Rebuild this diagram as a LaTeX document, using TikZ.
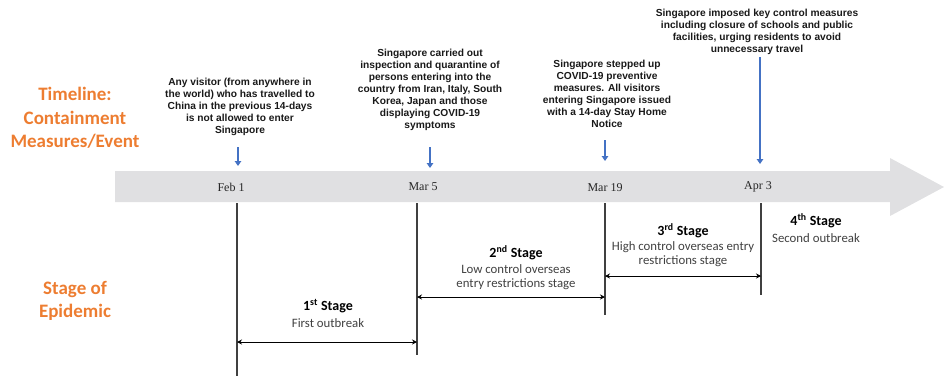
\documentclass[tikz,border=0pt]{standalone}
\usepackage{fontspec}
\setmainfont{Liberation Serif}
\newfontfamily\calibri{Carlito}
\newfontfamily\helv{Liberation Sans}
\usetikzlibrary{arrows.meta}
\definecolor{orng}{RGB}{237,125,49}
\definecolor{blu}{RGB}{68,114,196}
\definecolor{band}{RGB}{224,224,226}
\tikzset{
  side/.style={text=orng,font=\calibri\bfseries\fontsize{19}{23.5}\selectfont,align=center},
  event/.style={font=\helv\bfseries\fontsize{10.2}{12}\selectfont,align=center,text=black!90},
  date/.style={font=\fontsize{12}{14}\selectfont,text=black!85},
  stagehead/.style={font=\calibri\bfseries\fontsize{14}{16}\selectfont},
  stagetext/.style={font=\calibri\fontsize{12.8}{14.5}\selectfont,align=center,text=black!75},
  push/.style={blu,line width=1.6pt,-{Triangle[length=5pt,width=6.5pt]}},
  span/.style={line width=0.9pt,{Stealth[length=5pt,width=5pt]}-{Stealth[length=5pt,width=5pt]}},
}
\begin{document}
\begin{tikzpicture}[x=1pt,y=-1pt]
\useasboundingbox (0,0) rectangle (944,376);
% grey time axis
\fill[band] (115,171) -- (890,171) -- (890,158) -- (944,187) -- (890,216) -- (890,202) -- (115,202) -- cycle;
% row headings
\node[side] (timeline) at (75,118) {Timeline:\\Containment\\Measures/Event};
\node[side] (epidemic) at (75,301) {Stage of\\Epidemic};
% dates on the axis
\node[date] (feb) at (231,187) {Feb 1};
\node[date] (mar5) at (423,187) {Mar 5};
\node[date] (mar19) at (605,188) {Mar 19};
\node[date] (apr) at (758,187) {Apr 3};
% events
\node[event] (ev1) at (240,107) {Any visitor (from anywhere in\\the world) who has travelled to\\China in the previous 14-days\\is not allowed to enter\\Singapore};
\node[event] (ev2) at (430,90) {Singapore carried out\\inspection and quarantine of\\persons entering into the\\country from Iran, Italy, South\\Korea, Japan and those\\displaying COVID-19\\symptoms};
\node[event] (ev3) at (607,94) {Singapore stepped up\\COVID-19 preventive\\measures. All visitors\\entering Singapore issued\\with a 14-day Stay Home\\Notice};
\node[event] (ev4) at (757,32) {Singapore imposed key control measures\\including closure of schools and public\\facilities, urging residents to avoid\\unnecessary travel};
\foreach \n/\x/\a/\b in {1/238/147/166, 2/430/147/168, 3/605/140/161, 4/760/57/164} {
  \coordinate (from\n) at (\x,\a);
  \coordinate (to\n) at (\x,\b);
  \draw[push] (from\n) -- (to\n);
}
% stage boundaries
\foreach \n/\x/\y in {1/237/376, 2/417/355, 3/605/315, 4/761/295} {
  \coordinate (top\n) at (\x,203);
  \coordinate (bot\n) at (\x,\y);
  \draw[line width=1.1pt,black!75] (top\n) -- (bot\n);
}
\draw[span] (top1 |- 0,342) -- (top2 |- 0,342);
\draw[span] (top2 |- 0,297) -- (top3 |- 0,297);
\draw[span] (top3 |- 0,276) -- (top4 |- 0,276);
% stages
\node[stagehead] (s1) at (328,306) {1\textsuperscript{st} Stage};
\node[stagetext] (d1) at (328,323) {First outbreak};
\node[stagehead] (s2) at (516,253) {2\textsuperscript{nd} Stage};
\node[stagetext] (d2) at (516,277) {Low control overseas\\entry restrictions stage};
\node[stagehead] (s3) at (683,231) {3\textsuperscript{rd} Stage};
\node[stagetext] (d3) at (683,254) {High control overseas entry\\restrictions stage};
\node[stagehead] (s4) at (816,221) {4\textsuperscript{th} Stage};
\node[stagetext] (d4) at (816,238) {Second outbreak};
\end{tikzpicture}
\end{document}
